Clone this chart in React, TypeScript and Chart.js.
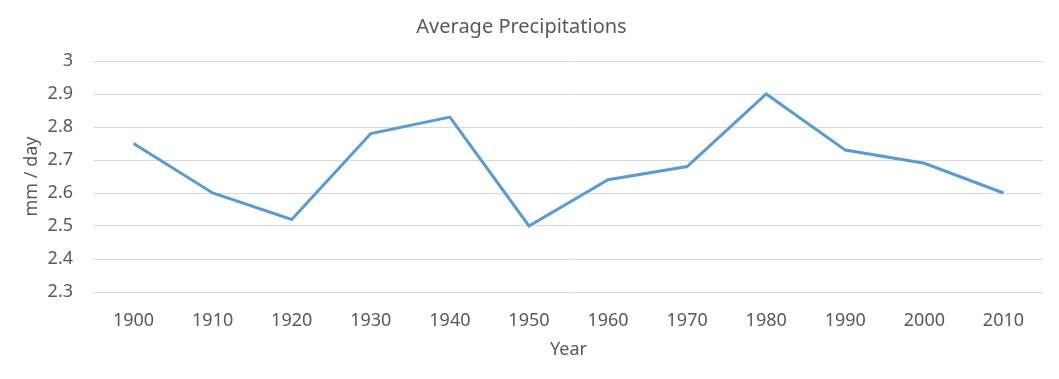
import React, { useEffect, useRef } from "react";
import { Chart, registerables } from "chart.js";

Chart.register(...registerables);

const years = ["1900", "1910", "1920", "1930", "1940", "1950", "1960", "1970", "1980", "1990", "2000", "2010"];
const precipitation = [2.75, 2.6, 2.52, 2.78, 2.83, 2.5, 2.64, 2.68, 2.9, 2.73, 2.69, 2.6];
const yMin = 2.3;
const yMax = 3;
const yStep = 0.1;
const titleText = "Average Precipitations";
const yTitle = "mm / day";
const xTitle = "Year";

const W = 1059;
const H = 379;
const TEXT = "#595959";
const FONT = "'Noto Sans', 'Liberation Sans', sans-serif";

export default function App() {
  const ref = useRef<HTMLCanvasElement | null>(null);

  useEffect(() => {
    if (!ref.current) return;
    const chart = new Chart(ref.current, {
      type: "line",
      data: {
        labels: years,
        datasets: [
          {
            label: "Precipitation",
            data: precipitation,
            borderColor: "#5B9BD5",
            backgroundColor: "#5B9BD5",
            borderWidth: 3,
            pointRadius: 0,
            pointHoverRadius: 0,
            tension: 0,
            fill: false,
          },
        ],
      },
      options: {
        responsive: false,
        animation: false,
        layout: { padding: { left: 0, right: 16, top: 0, bottom: 0 } },
        plugins: {
          legend: { display: false },
          tooltip: { enabled: false },
          title: {
            display: true,
            text: titleText,
            color: TEXT,
            font: { family: FONT, size: 20, weight: "normal", lineHeight: 1.2 },
            padding: { top: 15, bottom: 22 },
          },
        },
        scales: {
          x: {
            offset: true,
            grid: { display: false, drawTicks: false },
            border: { display: false },
            ticks: {
              color: TEXT,
              padding: 18,
              maxRotation: 0,
              autoSkip: false,
              font: { family: FONT, size: 18, lineHeight: 1.2 },
            },
            title: {
              display: true,
              text: xTitle,
              color: TEXT,
              font: { family: FONT, size: 18, lineHeight: 1.2 },
              padding: { top: 0, bottom: 18 },
            },
            afterFit: (s: any) => {
              s.height = 87;
            },
          },
          y: {
            min: yMin,
            max: yMax,
            grid: { color: "#D9D9D9", lineWidth: 1, drawTicks: false },
            border: { display: false },
            ticks: {
              stepSize: yStep,
              color: TEXT,
              padding: 21,
              font: { family: FONT, size: 18, lineHeight: 1.2 },
              callback: (v: any) => String(Number(Number(v).toFixed(1))),
            },
            title: {
              display: true,
              text: yTitle,
              color: TEXT,
              font: { family: FONT, size: 18, lineHeight: 1.2 },
              padding: { top: 21, bottom: 0 },
            },
            afterFit: (s: any) => {
              s.width = 94;
            },
          },
        },
      },
    });
    return () => chart.destroy();
  }, []);

  return (
    <div style={{ position: "fixed", left: 0, top: 0, width: W, height: H, background: "#fff" }}>
      <canvas ref={ref} width={W} height={H} style={{ display: "block", width: W, height: H }} />
    </div>
  );
}
